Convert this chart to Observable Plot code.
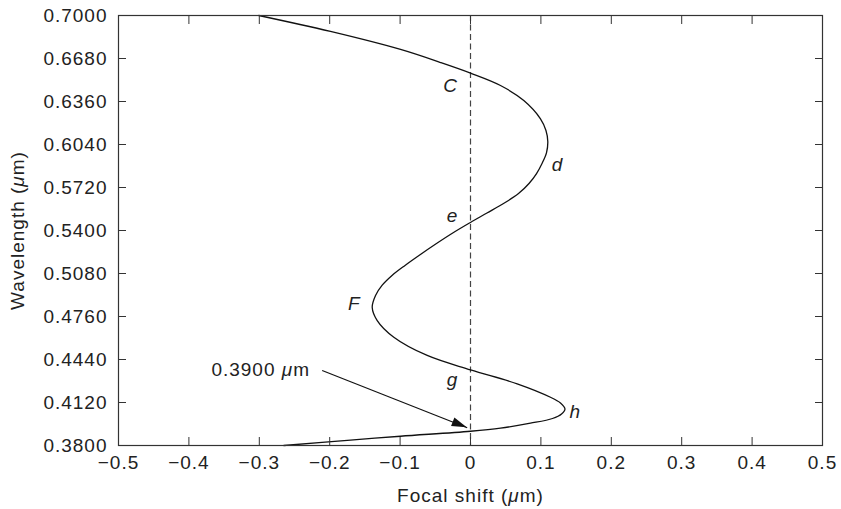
<!DOCTYPE html>
<html><head><meta charset="utf-8">
<script src="https://cdn.jsdelivr.net/npm/d3@7"></script>
<script src="https://cdn.jsdelivr.net/npm/@observablehq/plot@0.6"></script>
<style>
body{margin:0;background:#fff}
svg{font-family:"Liberation Sans",Arial,Helvetica,sans-serif}
svg text{letter-spacing:1px}
</style>
</head><body><div id="chart"></div>
<script>
// Curve: focal shift (µm) vs wavelength (µm)
const focalShift = [-0.3007,-0.1989,-0.0994,-0.0426,0.0,0.0426,0.0757,0.0994,0.1072,0.1098,0.1080,0.1016,0.0938,0.0831,0.0682,0.0469,0.0234,0.0,-0.0241,-0.0483,-0.0732,-0.0930,-0.1115,-0.1257,-0.1349,-0.1396,-0.1325,-0.1089,-0.0615,0.0,0.0663,0.1136,0.1278,0.1342,0.1293,0.1165,0.0852,0.0426,0.0,-0.0994,-0.1705,-0.2652];
const wavelength = [0.7000,0.6881,0.6747,0.6650,0.6571,0.6479,0.6367,0.6231,0.6144,0.6062,0.5980,0.5899,0.5824,0.5750,0.5675,0.5601,0.5530,0.5460,0.5385,0.5303,0.5214,0.5140,0.5065,0.4991,0.4916,0.4827,0.4730,0.4606,0.4470,0.4363,0.4259,0.4159,0.4116,0.4072,0.4034,0.4001,0.3966,0.3929,0.3906,0.3869,0.3840,0.3800];

const xTicks = [-0.5,-0.4,-0.3,-0.2,-0.1,0,0.1,0.2,0.3,0.4,0.5];
const yTicks = [0.3800,0.4120,0.4440,0.4760,0.5080,0.5400,0.5720,0.6040,0.6360,0.6680,0.7000];

const pointLabels = ["C","d","e","F","g","h"];
const labelX = [-0.0284,0.1236,-0.0256,-0.1650,-0.0256,0.1490];
const labelY = [0.6479,0.5891,0.5511,0.4857,0.4291,0.4053];

const annotText = ["0.3900 μm"];
const annotX = [-0.298];
const annotY = [0.4365];
const arrowX1 = [-0.2107], arrowY1 = [0.4358], arrowX2 = [-0.0047], arrowY2 = [0.3932];

const curveData = focalShift.map((x, i) => ({x, y: wavelength[i]}));
const labelData = pointLabels.map((t, i) => ({t, x: labelX[i], y: labelY[i]}));
const annotData = annotText.map((t, i) => ({t, x: annotX[i], y: annotY[i]}));
const arrowData = arrowX1.map((d, i) => ({x1: arrowX1[i], y1: arrowY1[i], x2: arrowX2[i], y2: arrowY2[i]}));

const fmtX = d => d === 0 ? "0" : d3.format(".1f")(d);
const FS = 19;

const chart = Plot.plot({
  width: 841, height: 509,
  marginLeft: 118, marginRight: 19, marginTop: 15, marginBottom: 64,
  style: {fontFamily: '"Liberation Sans", Arial, sans-serif', fontSize: FS + "px", color: "#222", background: "#fff"},
  x: {domain: [-0.5, 0.5]},
  y: {domain: [0.38, 0.70]},
  marks: [
    Plot.ruleX([0], {stroke: "#444", strokeDasharray: "6,3.5", strokeWidth: 1.2}),
    Plot.line(curveData, {x: "x", y: "y", curve: "catmull-rom", stroke: "#111", strokeWidth: 1.3}),
    Plot.text(labelData, {x: "x", y: "y", text: "t", fontStyle: "italic", fontSize: FS, fill: "#222"}),
    Plot.text(annotData, {x: "x", y: "y", text: "t", fontSize: FS, fill: "#222"}),
    Plot.link(arrowData, {x1: "x1", y1: "y1", x2: "x2", y2: "y2", stroke: "#111", strokeWidth: 1.2}),
    Plot.axisX({ticks: xTicks, tickSize: -8, tickPadding: 18, tickFormat: fmtX, fontSize: FS, label: "Focal shift (μm)", labelArrow: false, labelAnchor: "center", labelOffset: 56, stroke: "#333"}),
    Plot.axisX({anchor: "top", ticks: xTicks, tickSize: -8, tickFormat: () => "", label: null, stroke: "#333"}),
    Plot.axisY({ticks: yTicks, tickSize: -8, tickPadding: 19, tickFormat: d3.format(".4f"), fontSize: FS, label: "Wavelength (μm)", labelArrow: false, labelAnchor: "center", labelOffset: 108, stroke: "#333"}),
    Plot.axisY({anchor: "right", ticks: yTicks, tickSize: -8, tickFormat: () => "", label: null, stroke: "#333"}),
    Plot.frame({stroke: "#333", strokeWidth: 1.2})
  ]
});
document.getElementById("chart").appendChild(chart);

// Strip any label arrows, and italicize µ
d3.select(chart).selectAll("text").each(function() {
  const el = d3.select(this);
  if (el.selectAll("tspan").size() > 0) {
    el.selectAll("tspan").each(function() {
      this.textContent = this.textContent.replace(/\s*[→↑←↓]\s*/g, "");
    });
  } else {
    this.textContent = this.textContent.replace(/\s*[→↑←↓]\s*/g, "");
  }
  if (el.selectAll("tspan").size() > 0) return;
  const s = this.textContent;
  if (!s.includes("μ")) return;
  const parts = s.split("μ");
  el.text(null);
  parts.forEach((p, i) => {
    if (i > 0) el.append("tspan").attr("font-style", "italic").text("μ");
    if (p) el.append("tspan").text(p);
  });
});

// Filled arrowhead at the end of the link, placed through the scales
const sx = chart.scale("x"), sy = chart.scale("y");
arrowData.forEach(a => {
  const x1 = sx.apply(a.x1), y1 = sy.apply(a.y1), x2 = sx.apply(a.x2), y2 = sy.apply(a.y2);
  const ang = Math.atan2(y2 - y1, x2 - x1);
  const L = 15, W = 4.5;
  const bx = x2 - L * Math.cos(ang), by = y2 - L * Math.sin(ang);
  const px = -Math.sin(ang) * W, py = Math.cos(ang) * W;
  d3.select(chart).append("polygon")
    .attr("points", `${x2},${y2} ${bx + px},${by + py} ${bx - px},${by - py}`)
    .attr("fill", "#111");
});
</script>
</body></html>
